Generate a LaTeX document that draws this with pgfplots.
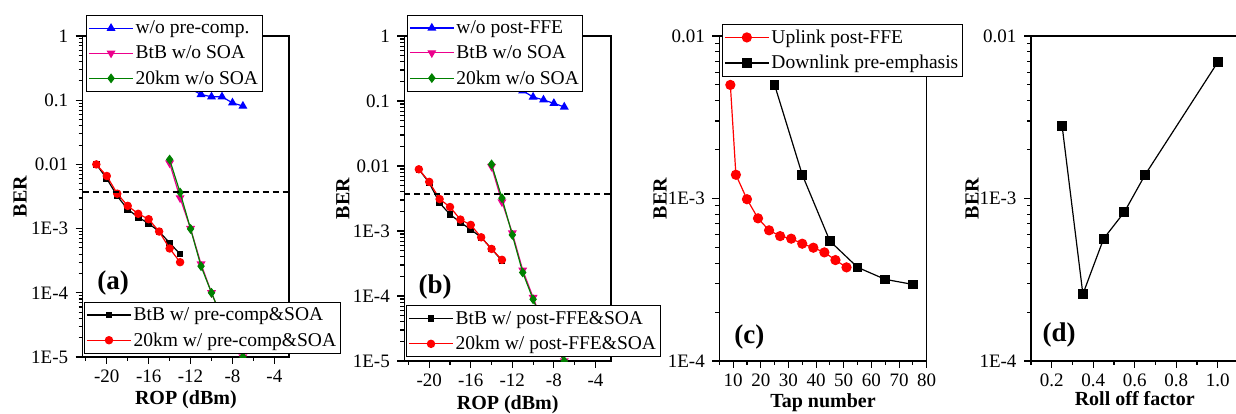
\documentclass[border=0pt]{standalone}
\usepackage{pgfplots}
\pgfplotsset{compat=1.18}
\usepackage{fontspec}
\setmainfont{Liberation Serif}
\definecolor{dgreen}{RGB}{0,128,0}
\tikzset{myline/.style={line width=1.2pt, mark options={solid}}}
\pgfplotsset{
 myaxis/.style={
  scale only axis,
  axis line style={line width=1.3pt},
  tick align=outside, tick pos=left,
  major tick length=7pt, minor tick length=4pt,
  tick style={line width=1.1pt, black},
  tick label style={font=\fontsize{19}{21}\selectfont},
  yticklabel shift=4pt, xticklabel shift=2pt,
  /pgf/number format/assume math mode=true,
  label style={font=\fontsize{20}{22}\selectfont\bfseries},
  legend style={font=\fontsize{19.5}{21}\selectfont, draw=black, line width=0.9pt,
     inner xsep=2pt, inner ysep=3.5pt, row sep=6.5pt, anchor=north west},
  legend cell align=left,
  legend image code/.code={\draw[mark repeat=2,mark phase=2,##1] plot coordinates {(0pt,0pt) (22pt,0pt) (44pt,0pt)};},
  clip marker paths=true,
 },
 fec/.style={black, line width=2pt, dash pattern=on 6pt off 4pt, forget plot},
}
\begin{document}
\begin{tikzpicture}
\useasboundingbox (0,0) rectangle (1236pt,414pt);
% ---------------- (a)
\begin{semilogyaxis}[myaxis, at={(82.7pt,57pt)}, anchor=south west, width=206.3pt, height=321pt,
 xmin=-22.3, xmax=-2.6, ymin=1e-5, ymax=1,
 xtick={-20,-16,-12,-8,-4}, minor xtick={-22,-18,-14,-10,-6},
 ytick={1e-5,1e-4,1e-3,1e-2,1e-1,1}, yticklabels={1E-5,1E-4,1E-3,0.01,0.1,1},
 xlabel={ROP (dBm)}, ylabel={BER},
 xlabel style={at={(rel axis cs:0.5,-0.134)}, anchor=center},
 ylabel style={at={(rel axis cs:-0.304,0.5)}, anchor=center},
 legend style={at={(rel axis cs:0.016,1.065)}}]
\addplot[myline, blue, mark=triangle*, mark size=4pt] coordinates {(-12,0.15) (-11,0.123) (-10,0.113) (-9,0.113) (-8,0.091) (-7,0.081)};
\addlegendentry{w/o pre-comp.}
\addplot[myline, magenta, mark=triangle*, mark size=4pt, mark options={rotate=180}] coordinates {(-14,0.0105) (-13,0.003) (-12,0.001) (-11,2.8e-4) (-10,1.0e-4) (-9,4e-5) (-8,2e-5) (-7,1e-5)};
\addlegendentry{BtB w/o SOA}
\addplot[myline, dgreen, mark=diamond*, mark size=4pt] coordinates {(-14,0.0119) (-13,0.00365) (-12,0.00099) (-11,2.6e-4) (-10,1.0e-4) (-9,4e-5) (-8,2e-5) (-7,1e-5)};
\addlegendentry{20km w/o SOA}
\addplot[myline, black, mark=square*, mark size=2.7pt, forget plot] coordinates {(-21,0.01) (-20,0.006) (-19,0.0032) (-18,0.002) (-17,0.0015) (-16,0.0012) (-15,9e-4) (-14,6e-4) (-13,4e-4)};
\addplot[myline, red, mark=*, mark size=3.6pt, forget plot] coordinates {(-21,0.01) (-20,0.0066) (-19,0.0035) (-18,0.00226) (-17,0.0017) (-16,0.0014) (-15,9e-4) (-14,4.9e-4) (-13,3e-4)};
\addplot[fec] coordinates {(-22.3,0.0037) (-2.6,0.0037)};
\node[font=\fontsize{27}{30}\selectfont\bfseries] at (rel axis cs:0.148,0.231) {(a)};
\end{semilogyaxis}
\begin{semilogyaxis}[myaxis, hide axis, at={(82.7pt,57pt)}, anchor=south west, width=206.3pt, height=321pt,
 xmin=-22.3, xmax=-2.6, ymin=1e-5, ymax=1,
 legend style={at={(rel axis cs:0.006,0.172)}}]
\addlegendimage{myline, black, mark=square*, mark size=2.7pt}
\addlegendentry{BtB w/ pre-comp\&SOA}
\addlegendimage{myline, red, mark=*, mark size=3.6pt}
\addlegendentry{20km w/ pre-comp\&SOA}
\end{semilogyaxis}
% ---------------- (b)
\begin{semilogyaxis}[myaxis, at={(404.3pt,53pt)}, anchor=south west, width=206.7pt, height=325pt,
 xmin=-22.4, xmax=-2.5, ymin=1e-5, ymax=1,
 xtick={-20,-16,-12,-8,-4}, minor xtick={-22,-18,-14,-10,-6},
 ytick={1e-5,1e-4,1e-3,1e-2,1e-1,1}, yticklabels={1E-5,1E-4,1E-3,0.01,0.1,1},
 xlabel={ROP (dBm)}, ylabel={BER},
 xlabel style={at={(rel axis cs:0.5,-0.135)}, anchor=center},
 ylabel style={at={(rel axis cs:-0.297,0.5)}, anchor=center},
 legend style={at={(rel axis cs:0.012,1.065)}}]
\addplot[myline, blue, mark=triangle*, mark size=4pt] coordinates {(-12,0.17) (-11,0.144) (-10,0.115) (-9,0.104) (-8,0.092) (-7,0.081)};
\addlegendentry{w/o post-FFE}
\addplot[myline, magenta, mark=triangle*, mark size=4pt, mark options={rotate=180}] coordinates {(-14,0.0098) (-13,0.0028) (-12,9.3e-4) (-11,2.5e-4) (-10,9.5e-5) (-9,3.6e-5) (-8,1.8e-5) (-7,1e-5)};
\addlegendentry{BtB w/o SOA}
\addplot[myline, dgreen, mark=diamond*, mark size=4pt] coordinates {(-14,0.0106) (-13,0.0032) (-12,8.7e-4) (-11,2.3e-4) (-10,8.9e-5) (-9,3.5e-5) (-8,1.8e-5) (-7,1e-5)};
\addlegendentry{20km w/o SOA}
\addplot[myline, black, mark=square*, mark size=2.7pt, forget plot] coordinates {(-21,0.0089) (-20,0.0055) (-19,0.0027) (-18,0.0018) (-17,0.00136) (-16,0.00105) (-15,8e-4) (-14,5.3e-4) (-13,3.5e-4)};
\addplot[myline, red, mark=*, mark size=3.6pt, forget plot] coordinates {(-21,0.0089) (-20,0.0057) (-19,0.0031) (-18,0.00234) (-17,0.0015) (-16,0.00124) (-15,8e-4) (-14,5.3e-4) (-13,3.6e-4)};
\addplot[fec] coordinates {(-22.4,0.0037) (-2.5,0.0037)};
\node[font=\fontsize{27}{30}\selectfont\bfseries] at (rel axis cs:0.149,0.229) {(b)};
\end{semilogyaxis}
\begin{semilogyaxis}[myaxis, hide axis, at={(404.3pt,53pt)}, anchor=south west, width=206.7pt, height=325pt,
 xmin=-22.4, xmax=-2.5, ymin=1e-5, ymax=1,
 legend style={at={(rel axis cs:0.008,0.171)}}]
\addlegendimage{myline, black, mark=square*, mark size=2.7pt}
\addlegendentry{BtB w/ post-FFE\&SOA}
\addlegendimage{myline, red, mark=*, mark size=3.6pt}
\addlegendentry{20km w/ post-FFE\&SOA}
\end{semilogyaxis}
% ---------------- (c)
\begin{semilogyaxis}[myaxis, at={(719.3pt,53pt)}, anchor=south west, width=207.4pt, height=325pt,
 xmin=5, xmax=80, ymin=1e-4, ymax=1e-2,
 xtick={10,20,...,80}, minor xtick={5,15,...,75},
 ytick={1e-4,1e-3,1e-2}, yticklabels={1E-4,1E-3,0.01},
 xlabel={Tap number}, ylabel={BER},
 xlabel style={at={(rel axis cs:0.5,-0.127)}, anchor=center},
 ylabel style={at={(rel axis cs:-0.286,0.5)}, anchor=center},
 legend style={at={(rel axis cs:0.012,1.037)}}]
\addplot[myline, red, mark=*, mark size=4.5pt] coordinates {(9,0.005) (11,0.0014) (15,9.9e-4) (19,7.55e-4) (23,6.37e-4) (27,5.87e-4) (31,5.66e-4) (35,5.27e-4) (39,4.98e-4) (43,4.66e-4) (47,4.18e-4) (51,3.77e-4)};
\addlegendentry{Uplink post-FFE}
\addplot[myline, black, mark=square*, mark size=4.2pt] coordinates {(25,0.005) (35,0.0014) (45,5.47e-4) (55,3.77e-4) (65,3.18e-4) (75,2.96e-4)};
\addlegendentry{Downlink pre-emphasis}
\node[font=\fontsize{27}{30}\selectfont\bfseries] at (rel axis cs:0.145,0.075) {(c)};
\end{semilogyaxis}
% ---------------- (d)
\begin{semilogyaxis}[myaxis, at={(1031pt,53pt)}, anchor=south west, width=207.5pt, height=325pt,
 xmin=0.1, xmax=1.1, ymin=1e-4, ymax=1e-2,
 xtick={0.2,0.4,0.6,0.8,1.0}, xticklabels={0.2,0.4,0.6,0.8,1.0}, minor xtick={0.1,0.3,0.5,0.7,0.9},
 ytick={1e-4,1e-3,1e-2}, yticklabels={1E-4,1E-3,0.01},
 xlabel={Roll off factor}, ylabel={BER},
 xlabel style={at={(rel axis cs:0.5,-0.115)}, anchor=center},
 ylabel style={at={(rel axis cs:-0.284,0.5)}, anchor=center}]
\addplot[myline, black, mark=square*, mark size=4.3pt] coordinates {(0.25,0.00279) (0.35,2.58e-4) (0.45,5.66e-4) (0.55,8.26e-4) (0.65,0.0014) (1.0,0.0069)};
\node[font=\fontsize{27}{30}\selectfont\bfseries] at (rel axis cs:0.136,0.08) {(d)};
\end{semilogyaxis}
\end{tikzpicture}
\end{document}
